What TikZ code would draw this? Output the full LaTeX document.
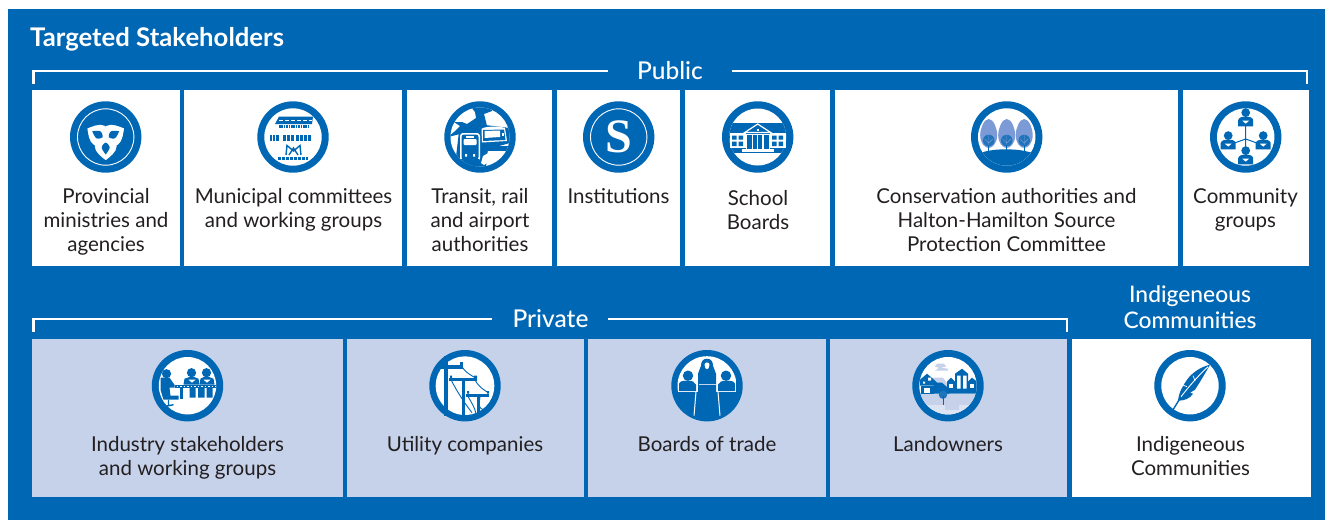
\documentclass[tikz,border=0pt]{standalone}
\usepackage{fontspec}
\setmainfont{Lato}[BoldFont=* Bold]
\newfontfamily\medfont{Lato Medium}
\newfontfamily\logofont{Liberation Serif}
\definecolor{bl}{HTML}{0067B4}
\definecolor{lt}{HTML}{C5D2EA}
\definecolor{md}{HTML}{7C9BD6}
\definecolor{ink}{HTML}{231F20}
\tikzset{
  whitebox/.style={fill=white,draw=none,inner sep=0,anchor=north west},
  lightbox/.style={fill=lt,draw=none,inner sep=0,anchor=north west},
  lab/.style={align=center,inner sep=0,text=ink,font=\fontsize{20.5}{24}\selectfont},
  head/.style={align=center,inner sep=0,text=white,font=\medfont\fontsize{22.8}{25.5}\selectfont},
  headbig/.style={align=center,inner sep=0,text=white,font=\medfont\fontsize{24.5}{25.5}\selectfont},
  brk/.style={draw=white,line width=2.6pt,line cap=butt,line join=miter},
  disc/.style={fill=bl,draw=none},
  wt/.style={fill=white,draw=none},
  bf/.style={fill=bl,draw=none},
}
\newcommand{\ringicon}{\fill[disc] (0,0) circle[radius=35.7];\fill[wt] (0,0) circle[radius=28.7];}
\newcommand{\person}[2]{%
  \begin{scope}[shift={(#1,#2)},scale=1.15]
    \fill[bf] (0,-6) circle[radius=3.8];
    \fill[bf] (-6.5,6) -- (-6.5,0.5) .. controls (-6,-2) and (-3,-2.5) .. (0,-2.5) .. controls (3,-2.5) and (6,-2) .. (6.5,0.5) -- (6.5,6) -- cycle;
    \fill[wt] (-3,1) -- (3,1) -- (0,3.6) -- cycle;
  \end{scope}}
\begin{document}
\begin{tikzpicture}[x=1pt,y=-1pt]
\useasboundingbox (0,0) rectangle (1325,520);
\fill[bl] (8,9) rectangle (1325,520);
\node[anchor=base west,inner sep=0,text=white,font=\bfseries\fontsize{25.7}{30}\selectfont] (title) at (30,46) {Targeted Stakeholders};

% public boxes
\node[whitebox,minimum width=147.5pt,minimum height=176pt] (b1) at (32,90) {};
\node[whitebox,minimum width=218pt,minimum height=176pt] (b2) at (184,90) {};
\node[whitebox,minimum width=145pt,minimum height=176pt] (b3) at (407,90) {};
\node[whitebox,minimum width=123pt,minimum height=176pt] (b4) at (557,90) {};
\node[whitebox,minimum width=145pt,minimum height=176pt] (b5) at (685,90) {};
\node[whitebox,minimum width=343pt,minimum height=176pt] (b6) at (835,90) {};
\node[whitebox,minimum width=126.5pt,minimum height=176pt] (b7) at (1182.5,90) {};
% lower boxes
\node[lightbox,minimum width=310.5pt,minimum height=158pt] (c1) at (32,339) {};
\node[lightbox,minimum width=237.5pt,minimum height=158pt] (c2) at (346.5,339) {};
\node[lightbox,minimum width=237.5pt,minimum height=158pt] (c3) at (588,339) {};
\node[lightbox,minimum width=237pt,minimum height=158pt] (c4) at (830,339) {};
\node[whitebox,minimum width=239.5pt,minimum height=158pt] (c5) at (1071.5,339) {};

% headings and brackets
\node[headbig] (pub) at (670,74.5) {\strut Public};
\node[headbig] (pri) at (550.5,322.5) {\strut Private};
\node[head] (ind) at (1190,310.5) {\strut Indigeneous\\\strut Communities};
\coordinate (pa) at (33.3,84);\coordinate (pb) at (33.3,71);\coordinate (pc) at (608,71);
\coordinate (pd) at (732,71);\coordinate (pe) at (1307,71);\coordinate (pf) at (1307,84);
\draw[brk] (pa) -- (pb) -- (pc);
\draw[brk] (pd) -- (pe) -- (pf);
\coordinate (qa) at (33.3,332);\coordinate (qb) at (33.3,319);\coordinate (qc) at (492,319);
\coordinate (qd) at (608,319);\coordinate (qe) at (1067,319);\coordinate (qf) at (1067,332);
\draw[brk] (qa) -- (qb) -- (qc);
\draw[brk] (qd) -- (qe) -- (qf);

% labels
\node[lab] (t1) at (106,223) {\strut Provincial\\\strut ministries and\\\strut agencies};
\node[lab] (t2) at (293.5,211) {\strut Municipal committees\\\strut and working groups};
\node[lab] (t3) at (480,223) {\strut Transit, rail\\\strut and airport\\\strut authorities};
\node[lab] (t4) at (618.5,199) {\strut Institutions};
\node[lab] (t5) at (758,213) {\strut School\\\strut Boards};
\node[lab] (t6) at (1006.5,223) {\strut Conservation authorities and\\\strut Halton-Hamilton Source\\\strut Protection Committee};
\node[lab] (t7) at (1245.5,211) {\strut Community\\\strut groups};
\node[lab] (u1) at (187.5,459) {\strut Industry stakeholders\\\strut and working groups};
\node[lab] (u2) at (465,447) {\strut Utility companies};
\node[lab] (u3) at (707,447) {\strut Boards of trade};
\node[lab] (u4) at (948,447) {\strut Landowners};
\node[lab] (u5) at (1190.5,459) {\strut Indigeneous\\\strut Communities};

% ---- Ontario trillium
\begin{scope}[shift={(105.7,137)}]
  \fill[disc] (0,0) circle[radius=35.7];
  \draw[white,line width=0.9pt] (0,0) circle[radius=28.2];
  \foreach \r in {0,120,240}{
    \begin{scope}[shift={(0,2)},rotate=\r]
      \fill[white,draw=white,line width=1pt,line join=round] (0,0) .. controls (-4,0.5) and (-10,3) .. (-10.5,7) .. controls (-10.5,13) and (-3,18) .. (0,20.5) .. controls (3,18) and (10.5,13) .. (10.5,7) .. controls (10,3) and (4,0.5) .. (0,0) -- cycle;
    \end{scope}}
  \foreach \r in {0,120,240}{
    \begin{scope}[shift={(0,2)},rotate=\r]
      \fill[bf] (0,3.5) .. controls (-3,5) and (-4.8,8) .. (-3.6,10) .. controls (-2.8,12) and (-1,14) .. (0,15.5) .. controls (1,14) and (2.8,12) .. (3.6,10) .. controls (4.8,8) and (3,5) .. (0,3.5) -- cycle;
    \end{scope}}
\end{scope}

% ---- Municipal logos
\begin{scope}[shift={(293,137)}]
  \ringicon
  \fill[bf] (-14,-20.5) -- (20,-20.5) -- (19,-13) -- (-18,-13) -- cycle;
  \draw[white,line width=0.8pt,dash pattern=on 4pt off 2pt] (-14,-17) -- (19,-17);
  \draw[bl,line width=2.4pt,dash pattern=on 1.6pt off .8pt] (-14,-10.5) -- (16,-10.5);
  \draw[bl,line width=6pt,dash pattern=on 2.2pt off 1pt] (-23,0.5) -- (-14,0.5);
  \draw[bl,line width=6pt,dash pattern=on 3pt off 1.2pt] (-10,0.5) -- (19,0.5);
  \draw[bl,line width=1.4pt] (-7,18) -- (-6,8.5) -- (0.5,14) -- (7,8.5) -- (8,18) (-4,18) -- (0.5,11) -- (5,18);
  \draw[bl,line width=2.2pt,dash pattern=on 3pt off 1pt] (-15,21.5) -- (15,21.5);
\end{scope}

% ---- Transit
\begin{scope}[shift={(480,137)}]
  \fill[disc] (0,0) circle[radius=35.7];
  \begin{scope}
    \clip (0,0) circle[radius=29.5];
    \fill[wt] (-30,-30) rectangle (30,30);
    % plane
    \fill[bf] (-10,-31) -- (14,-31) -- (12,-26) -- (4,-23) -- (7,-11) -- (-20,-3) -- (-32,0) -- (-26,-5) -- (-20,-11) -- (-26,-15) -- (-18,-15) -- (-13,-13) -- (-4,-19) -- (-5,-25) -- cycle;
    % central mass
    \fill[bf] (-21,-6) -- (-4,-12) -- (5,-12) -- (30,-9) -- (30,6) -- (8,12) -- (6,30) -- (-30,30) -- (-30,20) -- (-24,20) -- cycle;
    \fill[bf] (2,9) rectangle (30,14);
    % bus
    \fill[wt] (1.5,-8) .. controls (4,-11) and (20,-11) .. (25,-9) -- (27,4) -- (2,5.5) -- cycle;
    \fill[bf] (3,-7) -- (24,-7.5) -- (25.5,3) -- (3,4) -- cycle;
    \fill[wt] (4.5,-6) -- (20,-6.5) -- (20,0) -- (4.5,1) -- cycle;
    \fill[wt] (22,-4.5) rectangle (24,-1);
    % train
    \fill[wt,rounded corners=3pt] (-20,-4) rectangle (0,24);
    \fill[bf,rounded corners=2.5pt] (-18.5,-2.5) rectangle (-1.5,22.5);
    \fill[wt,rounded corners=1pt] (-16.5,2) rectangle (-3.5,8);
    \fill[wt] (-15,17) rectangle (-13,19.5) (-7,17) rectangle (-5,19.5);
    \fill[wt] (-14,-1) rectangle (-6,0.5);
    \fill[bf] (-19,22) rectangle (-1,30);
    % lower right patch
    \fill[wt] (1,26) -- (3,19) -- (10,15) -- (20,15) -- (19,21) -- (10,24) -- (4,28) -- cycle;
  \end{scope}
\end{scope}

% ---- Institutions
\begin{scope}[shift={(618.7,137)}]
  \fill[disc] (0,0) circle[radius=35.7];
  \draw[white,line width=0.9pt] (0,0) circle[radius=28.2];
  \node[inner sep=0,text=white,font=\logofont\bfseries\fontsize{48}{48}\selectfont] (sletter) at (0,0) {S};
\end{scope}

% ---- School
\begin{scope}[shift={(757.7,137)}]
  \fill[disc] (0,0) circle[radius=35.7];
  \begin{scope}
    \clip (0,0) circle[radius=28.5];
    \fill[wt] (-30,-30) rectangle (30,30);
    \fill[bf] (-30,-14) -- (30,-14) -- (30,16) -- (-30,16) -- cycle;
  \end{scope}
  \fill[wt] (-28,-4) rectangle (-12,11);
  \fill[wt] (12,-4) rectangle (28,11);
  \fill[bf] (-25.5,-1.5) rectangle (-21,2.5) (-19,-1.5) rectangle (-14.5,2.5) (-25.5,4.5) rectangle (-21,9) (-19,4.5) rectangle (-14.5,9);
  \fill[bf] (25.5,-1.5) rectangle (21,2.5) (19,-1.5) rectangle (14.5,2.5) (25.5,4.5) rectangle (21,9) (19,4.5) rectangle (14.5,9);
  \draw[white,line width=1.2pt,line join=miter] (-13,-4.5) -- (0,-13) -- (13,-4.5) -- cycle;
  \fill[wt] (-1.2,-8.5) rectangle (1.2,-6);
  \fill[wt] (-13,-3.5) rectangle (13,-2.5);
  \foreach \xx in {-11.5,-5.2,0,5.2,11.5}{\fill[wt] (\xx-.7,-3) rectangle (\xx+.7,12);}
  \fill[wt] (-16,12) rectangle (16,15);
\end{scope}

% ---- Conservation
\begin{scope}[shift={(1006.7,137)}]
  \ringicon
  \begin{scope}
    \clip (0,0) circle[radius=28.7];
    \foreach \xx in {-18,0,17.5}{
      \fill[md] (\xx,-18) .. controls (\xx+5,-18) and (\xx+8.5,-8) .. (\xx+8.5,-2) .. controls (\xx+8.5,6) and (\xx+4,11) .. (\xx,11) .. controls (\xx-4,11) and (\xx-8.5,6) .. (\xx-8.5,-2) .. controls (\xx-8.5,-8) and (\xx-5,-18) .. (\xx,-18) -- cycle;
      \fill[bl!75!md] (\xx,3.5) circle[radius=5.8];
      \draw[md,line width=.4pt] (\xx,-2) -- (\xx,9) (\xx-4,2) -- (\xx,6) -- (\xx+4,2);
      \draw[bl,line width=1.2pt] (\xx,8) -- (\xx,16);
    }
    \fill[bf] (-30,17) .. controls (-20,13.5) and (-10,12) .. (0,12.5) .. controls (10,12) and (20,14) .. (30,17) -- (30,32) -- (-30,32) -- cycle;
  \end{scope}
\end{scope}

% ---- Community
\begin{scope}[shift={(1245.7,137)}]
  \ringicon
  \draw[bl,line width=1pt] (0,2) -- (0,-12) (0,2) -- (-14,7) (0,2) -- (14,7) (0,2) -- (0,14);
  \person{0}{-17.5}
  \person{-17.5}{5.5}
  \person{17.5}{5.5}
  \person{0}{20.5}
\end{scope}

% ---- Industry
\begin{scope}[shift={(187.5,385.7)}]
  \ringicon
  \fill[bf] (-21,-12) circle[radius=4.6];
  \fill[bf] (-27,-8) -- (-18,-8) -- (-13,-1) -- (-13,2) -- (-18,2) -- (-17,10) -- (-9,10) -- (-9,14) -- (-24,14) -- (-27,4) -- cycle;
  \draw[bl,line width=1.4pt] (-19,14) -- (-19,20) (-24,21) -- (-14,19);
  \fill[bf] (4,-13) circle[radius=4.6];
  \fill[bf] (19,-13) circle[radius=4.6];
  \fill[bf] (-4,-1) -- (-3,-7) -- (3,-9) -- (6,-9) -- (11,-7) -- (12,-1) -- cycle;
  \fill[bf] (12,-1) -- (13,-7) -- (17,-9) -- (21,-9) -- (26,-7) -- (27,-1) -- cycle;
  \fill[wt] (1,-6) -- (8,-6) -- (4.5,-3) -- cycle (16,-6) -- (23,-6) -- (19.5,-3) -- cycle;
  \fill[bf] (-13,-1) rectangle (28,2.5);
  \draw[white,line width=.8pt,dash pattern=on 1.5pt off 2pt] (-11,0.7) -- (28,0.7);
  \fill[bf] (-8,2) rectangle (-5,13);
  \fill[bf] (2,2) rectangle (8,12) (10.5,2) rectangle (17,12) (19,2) rectangle (25,12);
\end{scope}

% ---- Utility
\begin{scope}[shift={(465,385.7)}]
  \fill[disc] (0,0) circle[radius=35.7];
  \fill[wt] (0,0) circle[radius=29.3];
  \fill[bf] (-21,-30) rectangle (-17.5,30);
  \fill[bf] (-25,-21) rectangle (-2,-17);
  \fill[bf] (-5,-24) rectangle (-2,-21);
  \fill[bf] (-3,-8) rectangle (0,30);
  \fill[bf] (-16,-7.5) rectangle (12,-4.5);
  \fill[bf] (9,-10) rectangle (12,-7.5) (-15,-10) rectangle (-13,-7.5);
  \fill[bf] (11.5,8) rectangle (14.5,28);
  \fill[bf] (1,8) rectangle (24,11);
  \fill[bf] (22,5.5) rectangle (24,8) (2,5.5) rectangle (4,8);
  \draw[bl,line width=.9pt] (-4,-21) .. controls (0,-13) and (4,-12) .. (10,-8)
    (10,-6) .. controls (14,2) and (18,3) .. (23,7)
    (-14,-6) .. controls (-8,6) and (0,18) .. (7,27)
    (2,9) .. controls (6,16) and (10,22) .. (11,28)
    (15,11) .. controls (14,18) and (13,22) .. (18,24);
\end{scope}

% ---- Boards of trade
\begin{scope}[shift={(707,385.7)}]
  \fill[disc] (0,0) circle[radius=35.7];
  \begin{scope}
    \clip (0,0) circle[radius=29.5];
    \fill[wt] (-30,-30) rectangle (30,6);
    \fill[bf] (-30,7) rectangle (30,32);
    \fill[bf] (-19,-10) circle[radius=5.2];
    \fill[bf] (19,-10) circle[radius=5.2];
    \fill[bf] (-28,5.5) -- (-28,-2) .. controls (-27,-5) and (-23,-5) .. (-19,-5) .. controls (-15,-5) and (-12,-4) .. (-11,-1) -- (-11,5.5) -- cycle;
    \fill[bf] (28,5.5) -- (28,-2) .. controls (27,-5) and (23,-5) .. (19,-5) .. controls (15,-5) and (12,-4) .. (11,-1) -- (11,5.5) -- cycle;
  \end{scope}
  \fill[bf] (0,-27) .. controls (4,-27) and (6,-24) .. (6,-20) .. controls (6,-17) and (9,-15) .. (9,-12) -- (9,5) -- (14,31) -- (-14,31) -- (-9,5) -- (-9,-12) .. controls (-9,-15) and (-6,-17) .. (-6,-20) .. controls (-6,-24) and (-4,-27) .. (0,-27) -- cycle;
  \fill[wt] (-2.5,-21) .. controls (-2.5,-24) and (2.5,-24) .. (2.5,-21) .. controls (2.5,-18) and (1,-16.5) .. (0,-16.5) .. controls (-1,-16.5) and (-2.5,-18) .. (-2.5,-21) -- cycle;
  \draw[lt,line width=1pt] (-8.5,-1) -- (8.5,-1);
  \draw[white,line width=1pt] (-11,6) -- (-13,30) (11,6) -- (13,30);
\end{scope}

% ---- Landowners
\begin{scope}[shift={(948,385.7)}]
  \ringicon
  \begin{scope}
    \clip (0,0) circle[radius=28.7];
    \fill[lt] (-30,8) rectangle (30,19);
    \fill[lt!60!white] (-30,19) rectangle (30,32);
    \fill[lt] (-3,8) rectangle (11,24);
    % cloud
    \fill[lt] (-11,-22) -- (-4,-22) -- (-2,-19) -- (-8,-18) -- (0,-17) -- (0,-15) -- (-13,-15) -- (-9,-18) -- (-13,-19) -- cycle;
    % left house
    \fill[lt] (-16,-8) -- (-5,-8) -- (2,2) -- (2,8) -- (-16,8) -- cycle;
    \fill[bf] (-28,-6) -- (-21,-12) -- (-14,-6) -- (-11,-3) -- (-11,0) -- (-28,0) -- cycle;
    \fill[wt] (-25,-4) rectangle (-23,-2) (-20,-8) rectangle (-17,-5);
    \fill[bf] (-27,0) rectangle (-14,8);
    \fill[wt] (-24,2) rectangle (-18,7);
    \fill[bf] (-14,-3) -- (-6,-3) -- (1,3) -- (1,8) -- (-14,8) -- cycle;
    % right houses
    \fill[bf] (-1,-4) -- (3,-8) -- (7,-4) -- (7,8) -- (-1,8) -- cycle;
    \fill[wt] (1,-2) rectangle (5,2);
    \fill[bf] (7,-12) -- (14,-17) -- (20,-12) -- (20,8) -- (7,8) -- cycle;
    \fill[wt] (9,-10) rectangle (12.5,3) (15,-10) rectangle (18.5,3);
    \fill[bf] (20,-4) -- (24,-8) -- (29,-4) -- (29,8) -- (20,8) -- cycle;
    \fill[wt] (22,-2) rectangle (26,2);
    % tree
    \fill[bl!75!md] (-5,9) circle[radius=4.2];
    \draw[bl,line width=1pt] (-5,10) -- (-5,19);
  \end{scope}
\end{scope}

% ---- Indigenous
\begin{scope}[shift={(1190,385.7)}]
  \ringicon
  \fill[bf] (20,-21) .. controls (11,-19) and (2,-13) .. (-3,-6) .. controls (-7,0) and (-11,6) .. (-12,15) .. controls (-6,15) and (0,13) .. (3,8) -- (0,7) -- (5,4) .. controls (9,-2) and (15,-12) .. (20,-21) -- cycle;
  \draw[bl,line width=1.4pt] (-9,11) -- (-20,29);
  \draw[white,line width=.9pt] (-9,11) .. controls (-2,2) and (8,-10) .. (18,-19);
  \draw[white,line width=.7pt] (-8,-1) -- (-3,1) (3,-10) -- (5,-5);
\end{scope}
\end{tikzpicture}
\end{document}
